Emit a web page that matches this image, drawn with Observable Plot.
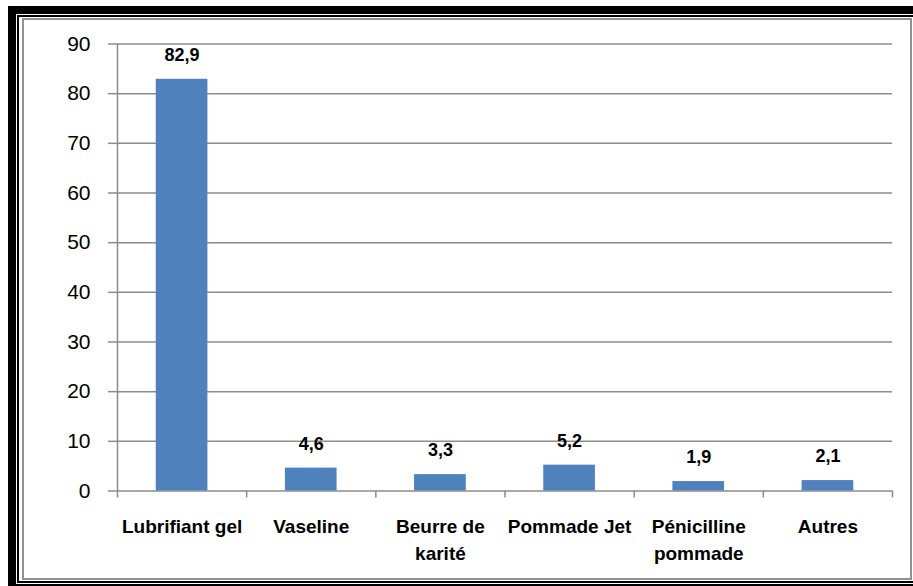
<!DOCTYPE html>
<html>
<head>
<meta charset="utf-8">
<script src="https://cdn.jsdelivr.net/npm/d3@7"></script>
<script src="https://cdn.jsdelivr.net/npm/@observablehq/plot@0.6"></script>
<style>
  html, body { margin: 0; padding: 0; background: #fff; }
  #wrap { position: relative; width: 913px; height: 586px; overflow: hidden; }
  #chart { position: absolute; left: 0; top: 0; }
  .b { position: absolute; box-sizing: border-box; pointer-events: none; }
  #b1 { left: 8px; top: 6px; width: 930px; height: 586px; border: 8px solid #000; }
  #b2 { left: 17px; top: 15px; width: 930px; height: 568px; border: 2px solid #000; }
  #b3 { left: 22px; top: 18px; width: 890px; height: 562px; border: 2px solid #929292; }
</style>
</head>
<body>
<div id="wrap">
  <div id="chart"></div>
  <div class="b" id="b1"></div>
  <div class="b" id="b2"></div>
  <div class="b" id="b3"></div>
</div>
<script>
const categories = ["Lubrifiant gel", "Vaseline", "Beurre de karité", "Pommade Jet", "Pénicilline pommade", "Autres"];
const categoryLabels = ["Lubrifiant gel", "Vaseline", "Beurre de\nkarité", "Pommade Jet", "Pénicilline\npommade", "Autres"];
const values = [82.9, 4.6, 3.3, 5.2, 1.9, 2.1];
const yTicks = [0, 10, 20, 30, 40, 50, 60, 70, 80, 90];

const W = 913, H = 586;
const mL = 117, mR = 21, mT = 43.5, mB = 95.5;
const step = (W - mL - mR) / categories.length; // paddingInner 0.6 + 2*0.3 outer => step = range / n
const gray = "#8c8c8c";
const font = "'Liberation Sans', Arial, sans-serif";
const labelOf = new Map(categories.map((c, i) => [c, categoryLabels[i]]));
const fmt = v => v.toFixed(1).replace(".", ",");

const chart = Plot.plot({
  width: W,
  height: H,
  marginLeft: mL,
  marginRight: mR,
  marginTop: mT,
  marginBottom: mB,
  style: { fontFamily: font, background: "transparent", color: "#000" },
  x: { type: "band", domain: categories, paddingInner: 0.6, paddingOuter: 0.3, round: false, label: null },
  y: { domain: [0, 90], label: null },
  marks: [
    Plot.gridY(yTicks, { stroke: gray, strokeOpacity: 1, strokeWidth: 1.5 }),
    Plot.axisY(yTicks, { tickSize: 9, tickPadding: 18, stroke: gray, strokeWidth: 1.5, fontSize: 21, label: null }),
    Plot.ruleX([categories[0]], { x: d => d, dx: -step / 2, stroke: gray, strokeWidth: 1.5, insetBottom: -7 }),
    Plot.axisX({ tickSize: 7, dx: step / 2, tickFormat: () => "", stroke: gray, strokeWidth: 1.5, label: null }),
    Plot.barY(categories, { x: categories, y: values, fill: "#4F81BD" }),
    Plot.text(categories, { x: categories, y: values, text: values.map(fmt), dy: -24, fontSize: 18, fontWeight: "bold", fill: "#000" }),
    Plot.axisX({ tickSize: 0, tickPadding: 22.5, tickFormat: d => labelOf.get(d), fontSize: 19, fontWeight: "bold", lineHeight: 1.42, label: null })
  ]
});
document.getElementById("chart").appendChild(chart);
</script>
</body>
</html>
